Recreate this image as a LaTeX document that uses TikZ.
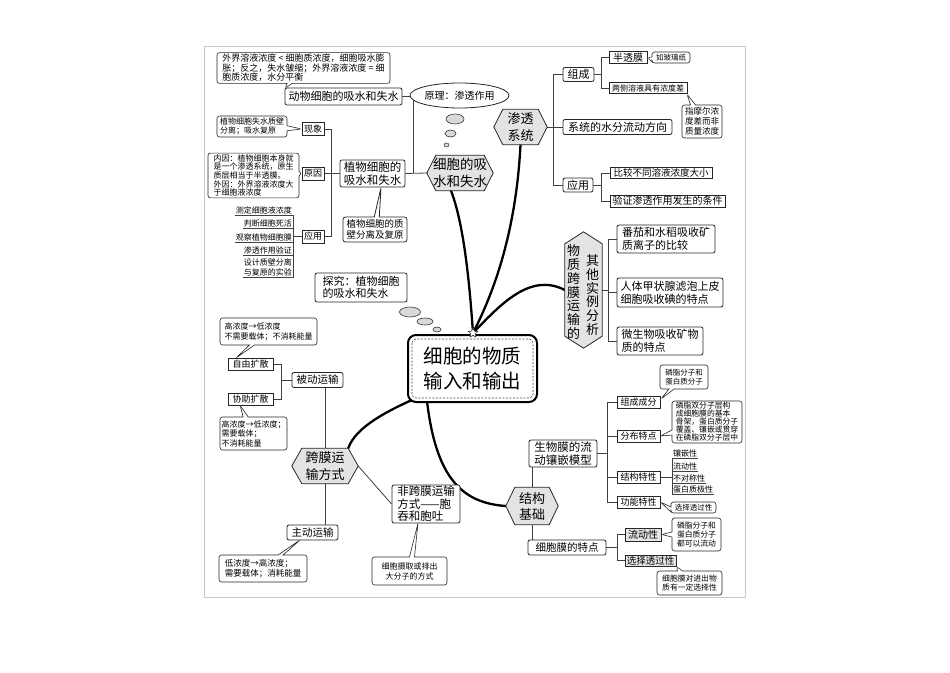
\documentclass[tikz,border=0pt]{standalone}
\usepackage{fontspec}
\setmainfont{Noto Sans CJK SC}
\usetikzlibrary{shapes.geometric,shapes.callouts,calc,backgrounds}
\newcommand\myfs[2]{\fontsize{#1}{#2}\selectfont}
\newcommand\hexH[2]{\filldraw[hexfill] (#1.west) -- ($(#1.north west)+(#2,0)$) -- ($(#1.north east)+(-#2,0)$) -- (#1.east) -- ($(#1.south east)+(-#2,0)$) -- ($(#1.south west)+(#2,0)$) -- cycle;}
\newcommand\hexV[2]{\filldraw[hexfill] (#1.north) -- ($(#1.north east)+(0,#2)$) -- ($(#1.south east)+(0,-#2)$) -- (#1.south) -- ($(#1.south west)+(0,-#2)$) -- ($(#1.north west)+(0,#2)$) -- cycle;}
\begin{document}
\begin{tikzpicture}[x=1pt,y=-1pt,
  line/.style={line width=0.8pt, draw=black!75},
  box/.style={draw=black!85, line width=0.8pt, rounded corners=2pt, fill=white, inner sep=1pt, align=center},
  sq/.style={draw=black!85, line width=0.8pt, fill=white, inner sep=1pt},
  note/.style={rectangle callout, draw=black!85, line width=0.6pt, rounded corners=2.5pt, fill=white, inner sep=1.5pt, align=left, callout pointer width=5pt},
  hexfill/.style={draw=black!85, line width=0.8pt, fill=gray!22},
  hexn/.style={inner sep=0pt, align=center},
  item/.style={inner sep=1pt, font=\myfs{8}{9}},
  bubble/.style={ellipse, draw=black!80, line width=0.6pt, fill=gray!30, inner sep=0pt},
  branch/.style={line width=2.3pt, line cap=round, draw=black}]
\useasboundingbox (0,0) rectangle (950,672);

% ---------- top left ----------
\node[box, minimum width=117, minimum height=17, font=\myfs{11}{13}] (dongwu) at (343.5,96.5) {动物细胞的吸水和失水};
\node[note, minimum width=173, minimum height=30, font=\myfs{9}{9.6}, callout absolute pointer={(285,88.5)}] (n1) at (303.5,68) {外界溶液浓度 < 细胞质浓度，细胞吸水膨\\胀；反之，失水皱缩；外界溶液浓度 = 细\\胞质浓度，水分平衡};
\node[sq, minimum width=22, minimum height=13, font=\myfs{9}{10}] (xianxiang) at (313,129) {现象};
\node[note, minimum width=70, minimum height=21, font=\myfs{8}{9}, callout absolute pointer={(xianxiang.west)}] (n2) at (252,126.5) {植物细胞失水质壁\\分离；吸水复原};
\node[sq, minimum width=22, minimum height=13, font=\myfs{9}{10}] (yuanyin) at (313,173.5) {原因};
\node[note, minimum width=91, minimum height=44, font=\myfs{8}{8.6}, callout absolute pointer={(yuanyin.west)}] (n3) at (253.5,175.5) {内因：植物细胞本身就\\是一个渗透系统，原生\\质层相当于半透膜。\\外因：外界溶液浓度大\\于细胞液浓度};
\node[sq, minimum width=22, minimum height=13, font=\myfs{9}{10}] (yy1) at (313,236.5) {应用};
\node[box, minimum width=65, minimum height=27, font=\myfs{11.5}{13.5}] (zhiwu) at (372.5,173.5) {植物细胞的\\吸水和失水};
\node[note, line width=0.8pt, align=center, minimum width=64, minimum height=25, font=\myfs{9.5}{11.5}, callout absolute pointer={(381,187.5)}] (zbfl) at (375,229.5) {植物细胞的质\\壁分离及复原};
\node[item, anchor=south east] (a1) at (293,215) {测定细胞液浓度};
\node[item, anchor=south east] (a2) at (293,228.5) {判断细胞死活};
\node[item, anchor=south east] (a3) at (293,242) {观察植物细胞膜};
\node[item, anchor=south east] (a4) at (293,255.5) {渗透作用验证};
\node[item, anchor=south east, align=left, font=\myfs{8}{10}] (a5) at (293,277.5) {设计质壁分离\\与复原的实验};
\node[box, align=left, minimum width=92, minimum height=29, font=\myfs{11}{12.5}] (tanjiu) at (361,287.5) {探究：植物细胞\\的吸水和失水};
\node[bubble, minimum width=21, minimum height=10] (tb1) at (410,312) {};
\node[bubble, minimum width=16, minimum height=7] (tb2) at (425,321.5) {};
\node[bubble, minimum width=8, minimum height=5] (tb3) at (437,329.5) {};

% ---------- top middle ----------
\node[hexn, minimum width=66, minimum height=35, font=\myfs{13.5}{17}] (xishui) at (460,173) {细胞的吸\\水和失水};
\node[ellipse, draw=black!85, line width=0.8pt, inner sep=0pt, minimum width=85, minimum height=25, font=\myfs{10}{12}, fill=white] (yuanli) at (459.5,95.5) {原理：渗透作用};
\node[bubble, minimum width=18, minimum height=10] (yb1) at (455,119) {};
\node[bubble, minimum width=11, minimum height=7] (yb2) at (450.5,133.5) {};
\node[bubble, minimum width=5, minimum height=4] (yb3) at (446.5,145) {};
\node[hexn, minimum width=53, minimum height=35, font=\myfs{13}{17}] (shentou) at (520.5,127) {渗透\\系统};

% ---------- top right ----------
\node[box, minimum width=31, minimum height=14, font=\myfs{11}{12}] (zucheng) at (578.5,74.5) {组成};
\node[box, minimum width=109, minimum height=15, font=\myfs{11}{12}] (xitong) at (617.5,127) {系统的水分流动方向};
\node[box, minimum width=30, minimum height=14, font=\myfs{11}{12}] (yy2) at (578,185) {应用};
\node[sq, minimum width=38, minimum height=12, font=\myfs{10}{11}] (bantou) at (628,57.5) {半透膜};
\node[note, minimum width=38, minimum height=11, font=\myfs{7.5}{8.5}, callout absolute pointer={(bantou.east)}] (rubo) at (671,57.5) {如玻璃纸};
\node[sq, minimum width=78, minimum height=11, font=\myfs{8}{9}] (liangce) at (648,88) {两侧溶液具有浓度差};
\node[note, minimum width=40, minimum height=33, font=\myfs{8.5}{10}, callout absolute pointer={(687,94)}] (zhimo) at (702,121.5) {指摩尔浓\\度差而非\\质量浓度};
\node[sq, minimum width=102, minimum height=11, font=\myfs{9.5}{10.5}] (bijiao) at (661,173) {比较不同溶液浓度大小};
\node[sq, minimum width=115, minimum height=12, font=\myfs{10}{11}] (yanzheng) at (667.5,201) {验证渗透作用发生的条件};

% ---------- right middle ----------
\node[hexn, minimum width=37, minimum height=116] (qita) at (583.5,290) {};
\node[inner sep=0pt, align=center, font=\myfs{13}{13.8}] (qitaL) at (573.5,292) {物\\质\\跨\\膜\\运\\输\\的};
\node[inner sep=0pt, align=center, font=\myfs{13}{13.8}] (qitaR) at (592.5,295) {其\\他\\实\\例\\分\\析};
\node[box, align=left, minimum width=98, minimum height=28, font=\myfs{11}{13}] (fanqie) at (666,239) {番茄和水稻吸收矿\\质离子的比较};
\node[box, align=left, minimum width=106, minimum height=29, font=\myfs{11}{13}] (renti) at (670,292.5) {人体甲状腺滤泡上皮\\细胞吸收碘的特点};
\node[box, align=left, minimum width=86, minimum height=28, font=\myfs{11}{13}] (weisheng) at (660,341) {微生物吸收矿物\\质的特点};

% ---------- right bottom ----------
\node[sq, minimum width=43, minimum height=12, font=\myfs{9}{10}] (zcfen) at (638.5,402.5) {组成成分};
\node[note, minimum width=48, minimum height=24, font=\myfs{7.5}{9}, callout absolute pointer={(661,399)}] (lz1) at (684,377) {磷脂分子和\\蛋白质分子};
\node[sq, minimum width=43, minimum height=12, font=\myfs{9}{10}] (fenbu) at (638.5,436) {分布特点};
\node[note, inner ysep=1pt, minimum width=70, minimum height=42, font=\myfs{7.8}{8}, callout absolute pointer={(fenbu.east)}] (lsf) at (707,422) {磷脂双分子层构\\成细胞膜的基本\\骨架，蛋白质分子\\覆盖、镶嵌或贯穿\\在磷脂双分子层中};
\node[box, minimum width=68, minimum height=27, font=\myfs{11.5}{13}] (smm) at (563,453.5) {生物膜的流\\动镶嵌模型};
\node[sq, minimum width=43, minimum height=12, font=\myfs{9}{10}] (jiegou) at (638.5,477) {结构特性};
\node[item, anchor=south west] (s1) at (672,458) {镶嵌性};
\node[item, anchor=south west] (s2) at (672,471) {流动性};
\node[item, anchor=south west] (s3) at (672,483) {不对称性};
\node[item, anchor=south west] (s4) at (672,494.5) {蛋白质极性};
\node[sq, minimum width=43, minimum height=12, font=\myfs{9}{10}] (gongneng) at (638.5,502) {功能特性};
\node[note, minimum width=45, minimum height=11, font=\myfs{7.5}{8.5}, callout absolute pointer={(gongneng.east)}] (xztg) at (693.5,507.5) {选择透过性};
\node[hexn, minimum width=52, minimum height=37, font=\myfs{13}{16}] (jgjc) at (532,506) {结构\\基础};
\node[box, minimum width=78, minimum height=15, font=\myfs{10.5}{12}] (cmtd) at (567,547.5) {细胞膜的特点};
\node[sq, fill=gray!20, minimum width=36, minimum height=13, font=\myfs{10}{11}] (liudong) at (643,534.5) {流动性};
\node[sq, fill=gray!20, minimum width=51, minimum height=11, font=\myfs{9.5}{10.5}] (xuanze) at (650.5,560.5) {选择透过性};
\node[note, minimum width=49, minimum height=33, font=\myfs{7.8}{9}, callout absolute pointer={(liudong.east)}] (ldn) at (696.5,534.5) {磷脂分子和\\蛋白质分子\\都可以流动};
\node[note, minimum width=65, minimum height=24, font=\myfs{7.8}{9.5}, callout absolute pointer={(xuanze.south east)}] (xzn) at (689.5,583) {细胞膜对进出物\\质有一定选择性};

% ---------- left bottom ----------
\node[sq, minimum width=45, minimum height=12, font=\myfs{9}{10}] (ziyou) at (250.5,364) {自由扩散};
\node[sq, minimum width=45, minimum height=12, font=\myfs{9}{10}] (xiezhu) at (250.5,399) {协助扩散};
\node[note, minimum width=97, minimum height=27, font=\myfs{8}{10}, callout absolute pointer={(236,358)}] (gd1) at (268.5,331.5) {高浓度→低浓度\\不需要载体；不消耗能量};
\node[box, minimum width=51, minimum height=15, font=\myfs{10.5}{12}] (beidong) at (317.5,380) {被动运输};
\node[note, minimum width=67, minimum height=33, font=\myfs{8}{9.5}, callout absolute pointer={(240,405)}] (gd2) at (253.5,433.5) {高浓度→低浓度；\\需要载体；\\不消耗能量};
\node[hexn, minimum width=66, minimum height=35, font=\myfs{13}{17}] (kuamo) at (325,466) {跨膜运\\输方式};
\node[box, minimum width=51, minimum height=15, font=\myfs{10.5}{12}] (zhudong) at (312.5,532.5) {主动运输};
\node[note, minimum width=88, minimum height=27, font=\myfs{8.5}{10}, callout absolute pointer={(300,540)}] (dn) at (263,568.5) {低浓度→高浓度；\\需要载体；消耗能量};
\node[box, align=left, minimum width=68, minimum height=38, font=\myfs{11.5}{12.5}] (fei) at (426,504) {非跨膜运输\\方式——胞\\吞和胞吐};
\node[note, align=center, minimum width=75, minimum height=28, font=\myfs{8}{10}, callout absolute pointer={(418,523)}] (xb) at (409.5,571) {细胞摄取或排出\\大分子的方式};

% ---------- centre ----------
\node[draw=black, line width=2pt, rounded corners=8pt, fill=white, minimum width=129, minimum height=67, align=center, font=\myfs{19.5}{25}] (cen) at (472.5,368.5) {细胞的物质\\输入和输出};
\draw[black!70, line width=0.7pt, dash pattern=on 2pt off 1.5pt, rounded corners=4pt] ($(cen.north west)+(5,5)$) rectangle ($(cen.south east)+(-5,-5)$);
\coordinate (c4) at (414,399);
\coordinate (c5) at (427,401);
\node[star, star points=5, star point ratio=2.2, draw=black!80, line width=0.5pt, fill=white, minimum size=10pt, inner sep=0pt] (star) at (473,333) {};

% ---------- background: frame, connectors, branches, hexagons ----------
\begin{scope}[on background layer]
\fill[white] (0,0) rectangle (950,672);
\draw[gray!45, line width=0.8pt] (204,46.5) rectangle (745,597.5);
% top-left connectors
\coordinate (j1) at (413,173);
\draw[line] (dongwu.east) -| (j1);
\draw[line] (zhiwu.east) -- (xishui.west);
\coordinate (j2) at (331,173.5);
\draw[line] (xianxiang.east) -| (j2);
\draw[line] (yy1.east) -| (j2);
\draw[line] (yuanyin.east) -- (zhiwu.west);
\foreach \a in {a1,a2,a3,a4,a5} {\draw[line] (\a.south west) -- (\a.south east);}
\draw[line] (a1.south east) -- (a5.south east);
\draw[line] (yy1.west) -- (yy1.west -| a1.south east);
% osmosis system
\coordinate (j3) at (553,127);
\draw[line] (shentou.east) -- (xitong.west);
\draw[line] (zucheng.west) -| (j3);
\draw[line] (yy2.west) -| (j3);
\coordinate (j4) at (601,74.5);
\draw[line] (zucheng.east) -- (j4);
\draw[line] (bantou.west) -| (j4);
\draw[line] (liangce.west) -| (j4);
\coordinate (j5) at (601,185);
\draw[line] (yy2.east) -- (j5);
\draw[line] (bijiao.west) -| (j5);
\draw[line] (yanzheng.west) -| (j5);
% other examples
\coordinate (j6) at (608,290);
\draw[line] (qita.east) -- (j6);
\draw[line] (fanqie.west) -| (j6);
\draw[line] (renti.west) -| (j6);
\draw[line] (weisheng.west) -| (j6);
% membrane model
\coordinate (j7) at (607,453.5);
\draw[line] (smm.east) -- (j7);
\draw[line] (zcfen.west) -| (j7);
\draw[line] (fenbu.west) -| (j7);
\draw[line] (jiegou.west) -| (j7);
\draw[line] (gongneng.west) -| (j7);
\draw[line] (jiegou.east) -- (jiegou.east -| s1.south west);
\foreach \s in {s1,s2,s3,s4} {\draw[line] (\s.south west) -- (\s.south east);}
\draw[line] (s1.south west) -- (s4.south west);
\draw[line] (jgjc.north) -- (jgjc.north |- smm.south);
\draw[line] (jgjc.south) -- (jgjc.south |- cmtd.north);
\coordinate (j8) at (617,547.5);
\draw[line] (cmtd.east) -- (j8);
\draw[line] (liudong.west) -| (j8);
\draw[line] (xuanze.west) -| (j8);
% transport
\coordinate (j9) at (281,380);
\draw[line] (ziyou.east) -| (j9);
\draw[line] (xiezhu.east) -| (j9);
\draw[line] (j9) -- (beidong.west);
\draw[line] (kuamo.north) -- (kuamo.north |- beidong.south);
\draw[line] (kuamo.south) -- (kuamo.south |- zhudong.north);
\draw[line] (kuamo.east) -- (fei.west);
% thick branches
\draw[branch] ([xshift=-9pt]xishui.south) .. controls (463,222) and (469,275) .. (star.center);
\draw[branch] (shentou.south) .. controls (516,232) and (494,292) .. (star.center);
\draw[branch] (qita.west) .. controls (530,272) and (500,305) .. (star.center);
\draw[branch] (c4) .. controls (390,410) and (356,426) .. ([xshift=-10pt]kuamo.north east);
\draw[branch] (c5) .. controls (436,478) and (462,503) .. (jgjc.west);
% hexagons
\hexH{xishui}{9}
\hexH{shentou}{9}
\hexH{kuamo}{10}
\hexH{jgjc}{9}
\hexV{qita}{12}
\end{scope}
\end{tikzpicture}
\end{document}
